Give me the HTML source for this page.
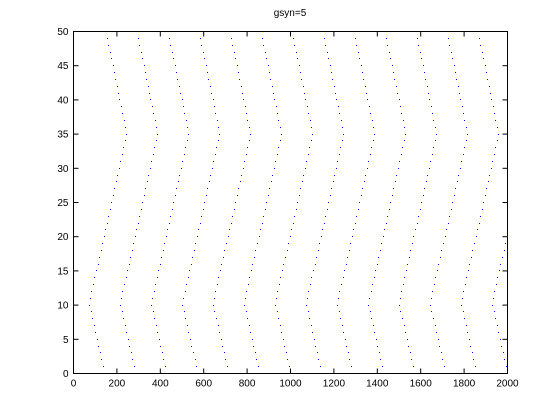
<!DOCTYPE html>
<html><head><meta charset="utf-8"><style>
body{margin:0;background:#fff}
svg{display:block;font-family:"Liberation Sans",sans-serif}
</style></head><body>
<svg id="chart" width="560" height="420">
<rect x="0" y="0" width="560" height="420" fill="#fff"/>
<text x="290" y="16" font-size="10" text-anchor="middle">gsyn=5</text>
<g id="ticks"></g>
<rect x="73.5" y="31.5" width="434" height="342" fill="none" stroke="#000" stroke-width="1"/>
<g id="dots" shape-rendering="crispEdges"></g>
</svg>
<script>
const waveStarts = [74,217,360,503,645,788,931,1074,1217,1360,1502,1645,1788,1931];
const neuronOffsets = [64,57,50,43,36,29,22,14,7,0,5,11,18,25,32,39,46,53,60,67,74,81,88,95,102,109,116,123,130,137,144,151,158,165,170,165,159,153,147,140,134,128,121,115,109,102,96,89,83];
const xTicks = [0,200,400,600,800,1000,1200,1400,1600,1800,2000];
const yTicks = [0,5,10,15,20,25,30,35,40,45,50];
const L=73.5,R=507.5,T=31.5,B=373.5;
function sx(v){return L+(v/2000)*(R-L);}
function sy(v){return B-(v/50)*(B-T);}
const NS="http://www.w3.org/2000/svg";
const tg=document.getElementById('ticks');
xTicks.forEach(v=>{
  const x=sx(v);
  [[B,B-5],[T,T+5]].forEach(p=>{
    const l=document.createElementNS(NS,'line');
    l.setAttribute('x1',x);l.setAttribute('x2',x);l.setAttribute('y1',p[0]);l.setAttribute('y2',p[1]);
    l.setAttribute('stroke','#000');
    
    
    tg.appendChild(l);
  });
  const t=document.createElementNS(NS,'text');
  t.setAttribute('x',x);t.setAttribute('y',B+13);t.setAttribute('font-size','10');t.setAttribute('text-anchor','middle');
  t.textContent=v;
  
  
  tg.appendChild(t);
});
yTicks.forEach(v=>{
  const y=sy(v);
  [[L,L+5],[R,R-5]].forEach(p=>{
    const l=document.createElementNS(NS,'line');
    l.setAttribute('y1',y);l.setAttribute('y2',y);l.setAttribute('x1',p[0]);l.setAttribute('x2',p[1]);
    l.setAttribute('stroke','#000');
    
    
    tg.appendChild(l);
  });
  const t=document.createElementNS(NS,'text');
  t.setAttribute('x',L-5);t.setAttribute('y',y+3.5);t.setAttribute('font-size','10');t.setAttribute('text-anchor','end');
  t.textContent=v;
  
  
  tg.appendChild(t);
});
const dg=document.getElementById('dots');
waveStarts.forEach(w=>{
  neuronOffsets.forEach((o,i)=>{
    const t=w+o;
    if(t<0||t>2000)return;
    const r=document.createElementNS(NS,'rect');
    r.setAttribute('x',Math.floor(sx(t)));
    r.setAttribute('y',Math.floor(sy(i+1)));
    r.setAttribute('width',1);r.setAttribute('height',1);
    r.setAttribute('fill','#00f');
    
    
    dg.appendChild(r);
  });
});
</script>
</body></html>
